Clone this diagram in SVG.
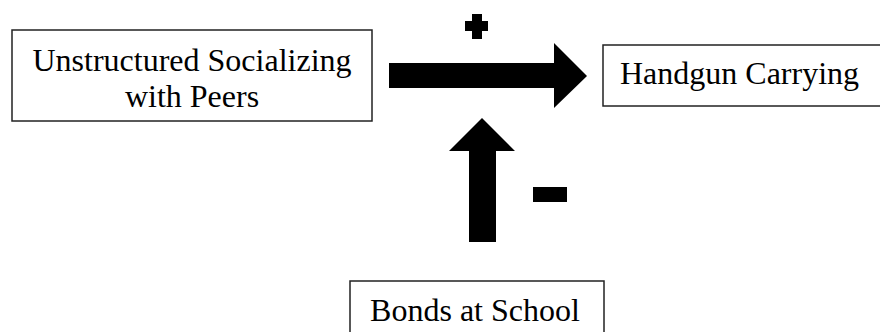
<svg xmlns="http://www.w3.org/2000/svg" width="880" height="332" viewBox="0 0 880 332">
  <style>
    .box { fill: #ffffff; stroke: #222222; stroke-width: 1.5; }
    .label { font-family: "Liberation Serif", "Times New Roman", serif; font-size: 32px; fill: #000000; }
    .arrow { fill: #000000; }
  </style>
  <rect width="880" height="332" fill="#ffffff"/>

  <g id="node-socializing">
    <rect class="box" x="12" y="30" width="360" height="91"/>
    <text class="label" x="192" y="71" text-anchor="middle">Unstructured Socializing</text>
    <text class="label" x="192" y="107" text-anchor="middle">with Peers</text>
  </g>

  <g id="node-handgun">
    <rect class="box" x="603" y="45" width="290" height="61"/>
    <text class="label" x="620" y="84">Handgun Carrying</text>
  </g>

  <g id="node-bonds">
    <rect class="box" x="350" y="281" width="254" height="70"/>
    <text class="label" x="475" y="321" text-anchor="middle">Bonds at School</text>
  </g>

  <g id="connectors">
    <!-- socializing -> handgun carrying -->
    <polygon class="arrow" points="389,63 554,63 554,43 587,76 554,108 554,88 389,88"/>
    <!-- plus sign -->
    <polygon class="arrow" points="472,14 482,14 482,21 488,21 488,31 482,31 482,39 472,39 472,31 465,31 465,21 472,21"/>
    <!-- bonds at school -> main path -->
    <polygon class="arrow" points="469,242 469,151 449,151 482,118 515,151 496,151 496,242"/>
    <!-- minus sign -->
    <rect class="arrow" x="533" y="187" width="34" height="15"/>
  </g>
</svg>
